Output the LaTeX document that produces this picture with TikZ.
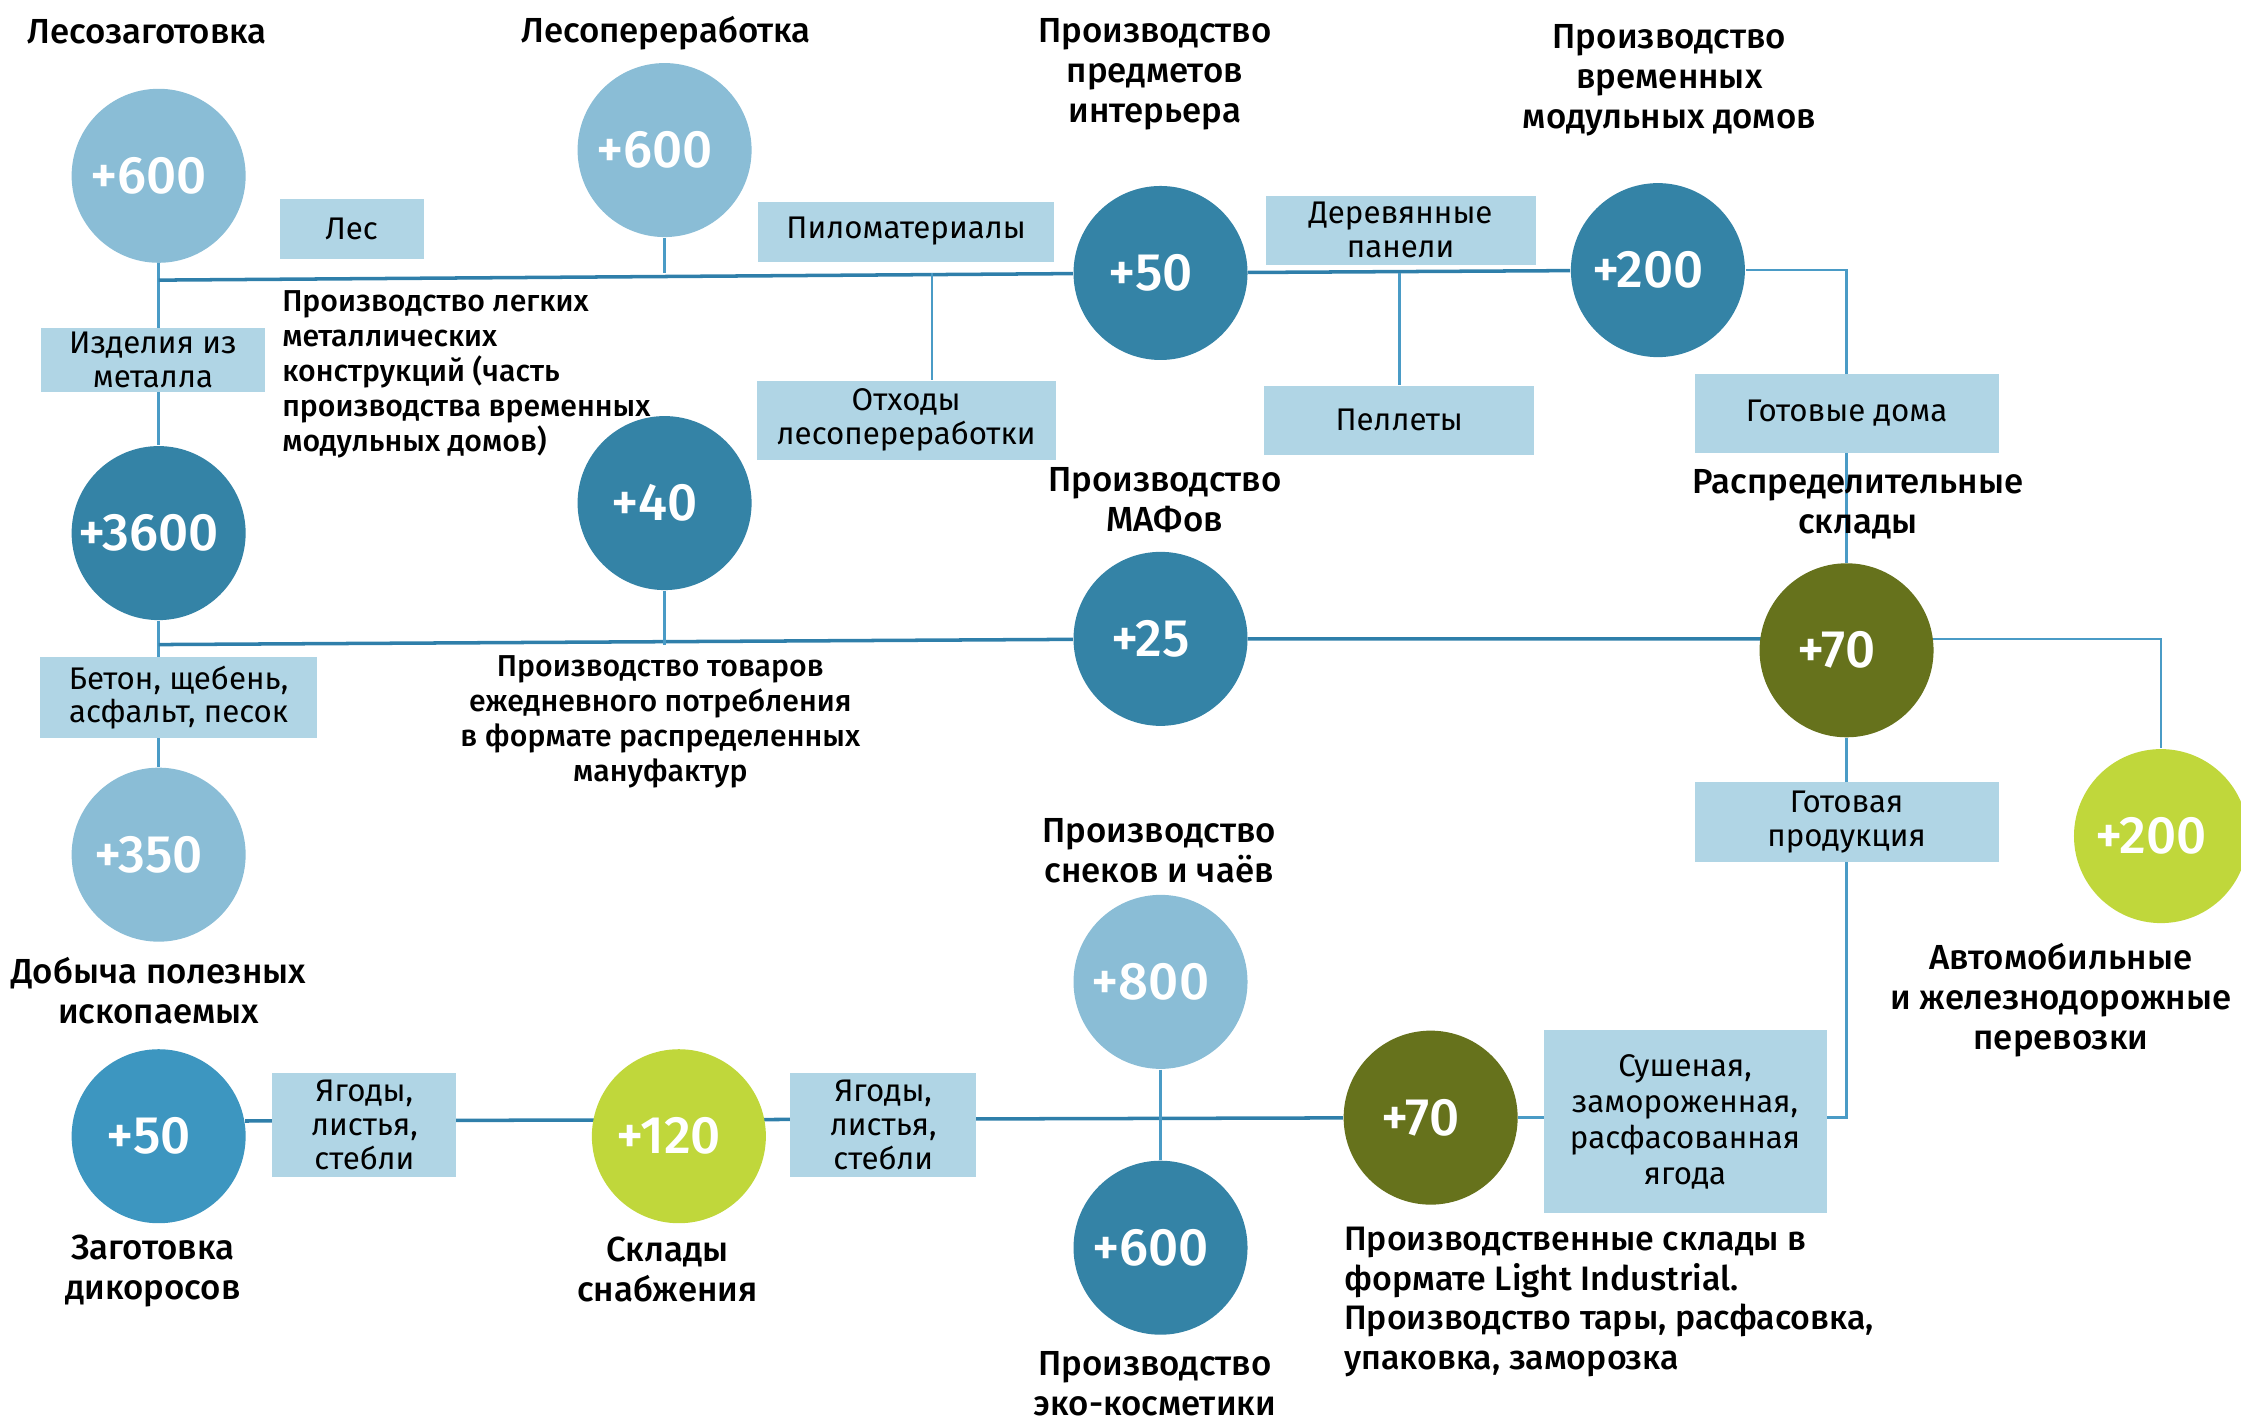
\documentclass[tikz,border=0pt]{standalone}
\usepackage{fontspec}
\setmainfont{Fira Sans}
\newfontfamily\medfont{Fira Sans Medium}
\usetikzlibrary{backgrounds}
\definecolor{hubLight}{HTML}{8ABDD6}
\definecolor{hubDark}{HTML}{3483A6}
\definecolor{hubMid}{HTML}{3D96C0}
\definecolor{hubOlive}{HTML}{66721C}
\definecolor{hubLime}{HTML}{C0D73B}
\definecolor{boxFill}{HTML}{B0D5E5}
\definecolor{trunkBlue}{HTML}{2F7FAA}
\definecolor{linkBlue}{HTML}{4A9BC6}

\begin{document}
\begin{tikzpicture}[x=0.14292mm, y=-0.14292mm,
    hub/.style={circle, minimum size=17.4mm, inner sep=0pt, text=white, font=\medfont\fontsize{15}{15}\selectfont,
        execute at begin node=\hspace*{-2mm}},
    lbox/.style={fill=boxFill, inner sep=0pt, align=center, font=\fontsize{8.9}{9.6}\selectfont},
    lbl/.style={align=center, font=\medfont\fontsize{9.9}{11.4}\selectfont},
    note/.style={align=left, anchor=west, inner sep=0pt, font=\medfont\fontsize{8.6}{10}\selectfont},
    trunk/.style={draw=trunkBlue, line width=1pt},
    link/.style={draw=linkBlue, line width=0.75pt}]
    \useasboundingbox (0,0) rectangle (1568,995);

    % Timber chain (top row)
    \node[hub, fill=hubLight] (c1) at (111,123) {+600};
    \node[hub, fill=hubLight] (c2) at (465,105) {+600};
    \node[hub, fill=hubDark] (c3) at (812,191) {+50};
    \node[hub, fill=hubDark] (c4) at (1160,189) {+200};
    \node[lbl] (t1) at (103,22) {Лесозаготовка};
    \node[lbl] (t2) at (466,23) {Лесопереработка};
    \node[lbl] (t3) at (808,52) {Производство\\предметов\\интерьера};
    \node[lbl] (t4) at (1168,56) {Производство\\временных\\модульных домов};
    \node[lbox, minimum width=14.4mm, minimum height=6mm] (b1) at (246,160) {Лес};
    \node[lbox, minimum width=29.6mm, minimum height=6mm] (b2) at (634,162) {Пиломатериалы};
    \node[lbox, minimum width=27mm, minimum height=6.9mm] (b3) at (980,161) {Деревянные\\панели};
    \node[lbox, minimum width=22.4mm, minimum height=6.4mm] (b4) at (107,252) {Изделия из\\металла};
    \node[lbox, minimum width=29.9mm, minimum height=7.9mm] (b5) at (634,294) {Отходы\\лесопереработки};
    \node[lbox, minimum width=27mm, minimum height=6.9mm] (b6) at (979,294) {Пеллеты};
    \node[lbox, minimum width=30.4mm, minimum height=7.9mm] (b7) at (1292,289) {Готовые дома};
    \node[note] (n1) at (197,262) {Производство легких\\металлических\\конструкций (часть\\производства временных\\модульных домов)};

    % Materials and distribution (middle row)
    \node[hub, fill=hubDark] (c5) at (111,373) {+3600};
    \node[hub, fill=hubDark] (c6) at (465,352) {+40};
    \node[hub, fill=hubDark] (c7) at (812,447) {+25};
    \node[hub, fill=hubOlive] (c8) at (1292,455) {+70};
    \node[hub, fill=hubLime] (c9) at (1512,585) {+200};
    \node[hub, fill=hubLight] (c10) at (111,598) {+350};
    \node[lbl] (t5) at (815,350) {Производство\\МАФов};
    \node[lbl] (t6) at (1300,353) {Распределительные\\склады};
    \node[lbl] (t7) at (111,693) {Добыча полезных\\ископаемых};
    \node[lbl] (t8) at (1442,700) {Автомобильные\\и железнодорожные\\перевозки};
    \node[lbox, minimum width=27.7mm, minimum height=8.1mm] (b8) at (125,488) {Бетон, щебень,\\асфальт, песок};
    \node[lbox, minimum width=30.4mm, minimum height=8mm] (b9) at (1292,575) {Готовая\\продукция};
    \node[note, anchor=center, align=center] (n2) at (462,505) {Производство товаров\\ежедневного потребления\\в формате распределенных\\мануфактур};

    % Wild berries (bottom row)
    \node[hub, fill=hubLight] (c11) at (812,687) {+800};
    \node[hub, fill=hubMid] (c12) at (111,795) {+50};
    \node[hub, fill=hubLime] (c13) at (475,795) {+120};
    \node[hub, fill=hubOlive] (c14) at (1001,782) {+70};
    \node[hub, fill=hubDark] (c15) at (812,873) {+600};
    \node[lbl] (t9) at (811,595) {Производство\\снеков и чаёв};
    \node[lbl] (t10) at (107,889) {Заготовка\\дикоросов};
    \node[lbl] (t11) at (467,888) {Склады\\снабжения};
    \node[lbl] (t12) at (808,968) {Производство\\эко-косметики};
    \node[lbox, minimum width=18.4mm, minimum height=10.4mm] (b10) at (255,787) {Ягоды,\\листья,\\стебли};
    \node[lbox, minimum width=18.6mm, minimum height=10.4mm] (b11) at (618,787) {Ягоды,\\листья,\\стебли};
    \node[lbox, minimum width=28.3mm, minimum height=18.3mm, font=\fontsize{8.9}{10.3}\selectfont] (b12) at (1179,785) {Сушеная,\\замороженная,\\расфасованная\\ягода};
    \node[note, font=\medfont\fontsize{9.65}{11.3}\selectfont] (n3) at (940,911) {Производственные склады в\\формате Light Industrial.\\Производство тары, расфасовка,\\упаковка, заморозка};

    % Connections
    \begin{scope}[on background layer]
        \coordinate (j1) at (111,196);
        \coordinate (j2) at (111,451);
        \coordinate (k1) at (652,191);
        \draw[link] (c1) -- (c5);
        \draw[link] (c5) -- (c10);
        \draw[trunk] (j1) -- (c3) -- (c4);
        \draw[link] (c2) -- (c2 |- c3);
        \draw[link] (k1) -- (k1 |- b5.north);
        \draw[link] (b6) -- (b6 |- c3);
        \draw[link] (c4) -| (c8);
        \draw[trunk] (j2) -- (c7) -- (c7 -| c8);
        \draw[link] (c6) -- (c6 |- j2);
        \draw[link] (c7 -| c8) -| (c9);
        \draw[link] (c8) |- (c14);
        \draw[trunk] (c12.10) -- (c14);
        \draw[link] (c11) -- (c15);
    \end{scope}
\end{tikzpicture}
\end{document}
